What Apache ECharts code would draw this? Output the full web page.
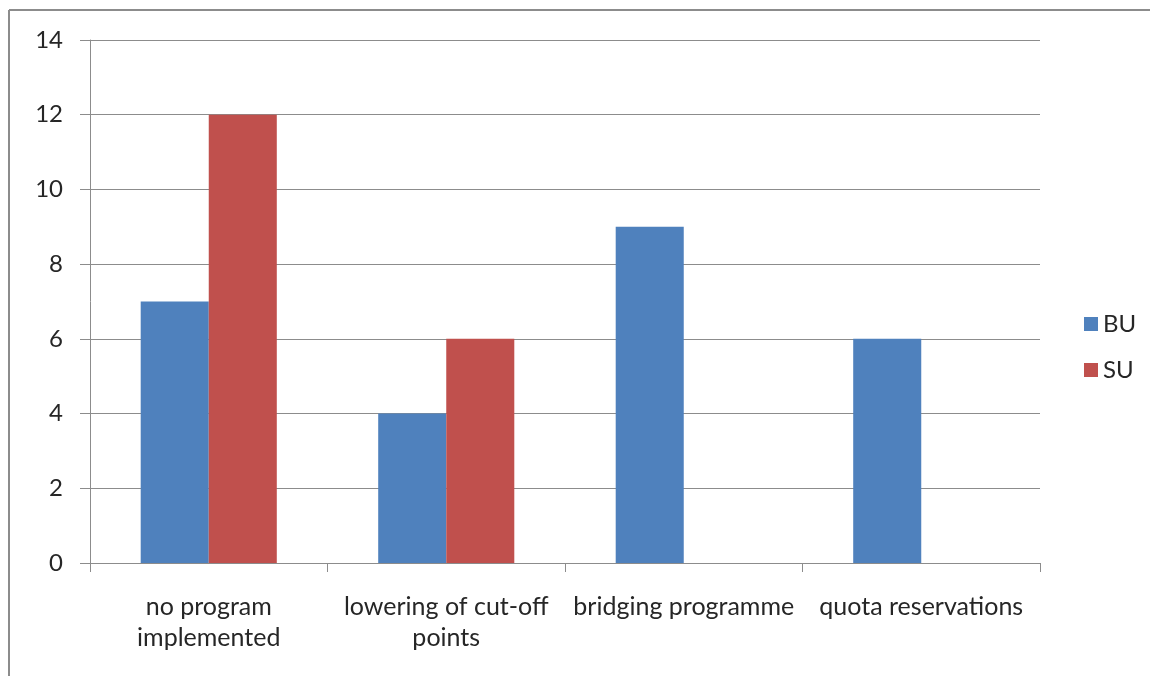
<!DOCTYPE html>
<html>
<head>
<meta charset="utf-8">
<script src="https://cdn.jsdelivr.net/npm/echarts@6/dist/echarts.min.js"></script>
<style>
  html, body { margin: 0; padding: 0; background: #fff; }
  #chart { width: 1150px; height: 676px; }
</style>
</head>
<body>
<div id="chart"></div>
<script>
// Categories and values per university
const categories = ['no program\nimplemented', 'lowering of cut-off\npoints', 'bridging programme', 'quota reservations'];
const seriesNames = ['BU', 'SU'];
const buValues = [7, 4, 9, 6];
const suValues = [12, 6, 0, 0];
const yTicks = [0, 2, 4, 6, 8, 10, 12, 14];

const font = 'Lato, "Open Sans", sans-serif';
const gridColor = '#8c8c8c';
const textColor = '#262626';

const chart = echarts.init(document.getElementById('chart'), null, { renderer: 'canvas' });
chart.setOption({
  backgroundColor: '#ffffff',
  animation: false,
  textStyle: { fontFamily: font },
  graphic: [
    { type: 'line', shape: { x1: 9, y1: 10, x2: 1150, y2: 10 }, style: { stroke: '#8c8c8c', lineWidth: 2 } },
    { type: 'line', shape: { x1: 9, y1: 10, x2: 9, y2: 676 }, style: { stroke: '#8c8c8c', lineWidth: 2 } }
  ],
  grid: { left: 90, right: 110, top: 40, bottom: 113, containLabel: false },
  legend: {
    orient: 'vertical',
    left: 1079,
    top: 307,
    itemWidth: 14,
    itemHeight: 14,
    itemGap: 22,
    icon: 'rect',
    textStyle: { fontFamily: font, fontSize: 24, color: textColor },
    data: seriesNames
  },
  xAxis: {
    type: 'category',
    data: categories,
    axisLine: { lineStyle: { color: gridColor, width: 1 } },
    axisTick: { show: true, alignWithLabel: false, length: 9, lineStyle: { color: gridColor } },
    axisLabel: {
      interval: 0,
      fontFamily: font, fontSize: 25, color: textColor, margin: 28,
      lineHeight: 31, align: 'center'
    }
  },
  yAxis: {
    type: 'value',
    min: yTicks[0],
    max: yTicks[yTicks.length - 1],
    interval: 2,
    axisLine: { show: true, lineStyle: { color: gridColor, width: 1 } },
    axisTick: { show: true, length: 10, lineStyle: { color: gridColor } },
    splitLine: { show: true, lineStyle: { color: gridColor, width: 1 } },
    axisLabel: { fontFamily: font, fontSize: 24, color: textColor, margin: 27 }
  },
  series: [
    {
      name: seriesNames[0], type: 'bar', data: buValues,
      barGap: '0%', barCategoryGap: '42.7%',
      itemStyle: { color: '#4f81bd' }
    },
    {
      name: seriesNames[1], type: 'bar', data: suValues,
      barGap: '0%', barCategoryGap: '42.7%',
      itemStyle: { color: '#c0504d' }
    }
  ]
});
</script>
</body>
</html>
